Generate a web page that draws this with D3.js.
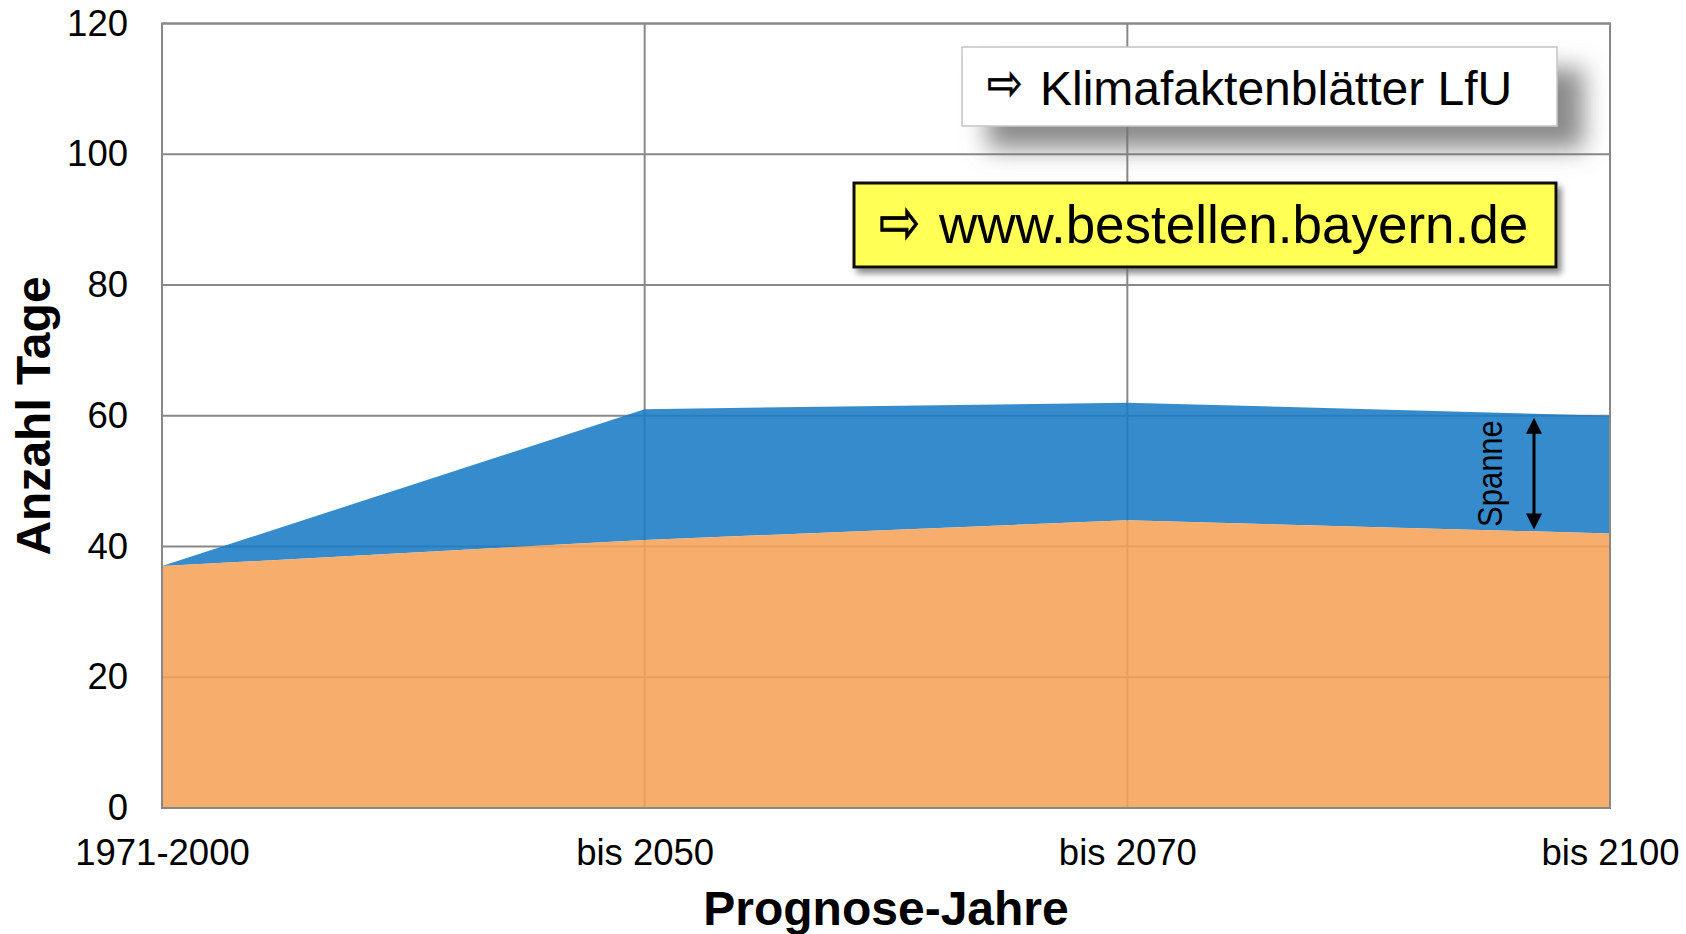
<!DOCTYPE html>
<html>
<head>
<meta charset="utf-8">
<script src="https://cdn.jsdelivr.net/npm/d3@7/dist/d3.min.js"></script>
<style>
body { margin: 0; background: #fff; }
text { font-family: "Liberation Sans", Arial, sans-serif; fill: #000; }
</style>
</head>
<body>
<svg id="chart" width="1686" height="934"></svg>
<script>
var categories = ['1971-2000', 'bis 2050', 'bis 2070', 'bis 2100'];
var lower = [37, 41, 44, 42];   // orange area
var upper = [37, 61, 62, 60];   // top of blue band (Spanne)
var yTicks = [0, 20, 40, 60, 80, 100, 120];

var svg = d3.select('#chart');
var plot = {left: 162, right: 1610, top: 23.5, bottom: 808};

var x = d3.scalePoint().domain(categories).range([plot.left, plot.right]);
var y = d3.scaleLinear().domain([0, 120]).range([plot.bottom, plot.top]);

var defs = svg.append('defs');
function shadow(id, dx, dy, blur, op) {
    var f = defs.append('filter').attr('id', id)
        .attr('x', '-20%').attr('y', '-50%').attr('width', '150%').attr('height', '220%');
    f.append('feDropShadow')
        .attr('dx', dx).attr('dy', dy).attr('stdDeviation', blur)
        .attr('flood-color', '#6e6e6e').attr('flood-opacity', op);
}
shadow('softShadow', 26, 22, 12, 0.8);
shadow('hardShadow', 4, 5, 3, 0.8);

// grid
var grid = svg.append('g').attr('stroke', '#888').attr('stroke-width', 2);
grid.selectAll('line.h').data(yTicks).enter().append('line')
    .attr('x1', plot.left).attr('x2', plot.right)
    .attr('y1', function(d) { return y(d); })
    .attr('y2', function(d) { return y(d); });
grid.selectAll('line.v').data(categories).enter().append('line')
    .attr('y1', plot.top).attr('y2', plot.bottom)
    .attr('x1', function(d) { return x(d); })
    .attr('x2', function(d) { return x(d); });

// areas
var rows = categories.map(function(c, i) {
    return {cat: c, lo: lower[i], hi: upper[i]};
});
var band = d3.area()
    .x(function(d) { return x(d.cat); })
    .y0(function(d) { return y(d.lo); })
    .y1(function(d) { return y(d.hi); });
var base = d3.area()
    .x(function(d) { return x(d.cat); })
    .y0(y(0))
    .y1(function(d) { return y(d.lo); });
svg.append('path').datum(rows).attr('d', band)
    .attr('fill', '#197bc4').attr('fill-opacity', 0.88);
svg.append('path').datum(rows).attr('d', base)
    .attr('fill', '#f6a258').attr('fill-opacity', 0.88);

// frame
svg.append('rect')
    .attr('x', plot.left).attr('y', plot.top)
    .attr('width', plot.right - plot.left).attr('height', plot.bottom - plot.top)
    .attr('fill', 'none').attr('stroke', '#888').attr('stroke-width', 2);

// axes
var yAxis = svg.append('g')
    .attr('transform', 'translate(' + plot.left + ',0)')
    .call(d3.axisLeft(y).tickValues(yTicks).tickSize(0).tickPadding(34));
var xAxis = svg.append('g')
    .attr('transform', 'translate(0,' + plot.bottom + ')')
    .call(d3.axisBottom(x).tickSize(0).tickPadding(31));
[yAxis, xAxis].forEach(function(a) {
    a.select('.domain').remove();
    a.selectAll('text')
        .attr('font-family', '"Liberation Sans", Arial, sans-serif')
        .attr('font-size', 36.5).attr('fill', '#000');
});

// axis titles
svg.append('text')
    .attr('transform', 'translate(50,416) rotate(-90)')
    .attr('text-anchor', 'middle')
    .attr('font-size', 48).attr('font-weight', 'bold')
    .text('Anzahl Tage');
svg.append('text')
    .attr('x', (plot.left + plot.right) / 2).attr('y', 925)
    .attr('text-anchor', 'middle')
    .attr('font-size', 48).attr('font-weight', 'bold')
    .text('Prognose-Jahre');

// Spanne arrow at the last category
var last = rows[rows.length - 1];
var ax = x(last.cat) - 76;
var ay1 = y(last.hi) + 2, ay2 = y(last.lo) - 4;
svg.append('line')
    .attr('x1', ax).attr('x2', ax)
    .attr('y1', ay1 + 14).attr('y2', ay2 - 14)
    .attr('stroke', '#000').attr('stroke-width', 3);
svg.append('path')
    .attr('d', 'M' + ax + ',' + ay1 + 'l-8,16h16z' +
               'M' + ax + ',' + ay2 + 'l-8,-16h16z')
    .attr('fill', '#000');
svg.append('text')
    .attr('transform', 'translate(1502,' + ((ay1 + ay2) / 2) + ') rotate(-90) scale(1,1.15)')
    .attr('text-anchor', 'middle')
    .attr('font-size', 31)
    .text('Spanne');

// info boxes
function arrowGlyph(g, px, py, size, sx) {
    g.append('text')
        .attr('transform', 'translate(' + px + ',' + py + ') scale(' + sx + ',1)')
        .attr('font-family', '"DejaVu Sans", sans-serif')
        .attr('font-size', size)
        .attr('stroke', '#000').attr('stroke-width', 0.8)
        .text('⇨');
}

var box1 = svg.append('g');
box1.append('rect')
    .attr('x', 962).attr('y', 47).attr('width', 595).attr('height', 79)
    .attr('fill', '#fff').attr('stroke', '#c4c4c4').attr('stroke-width', 1.5)
    .attr('filter', 'url(#softShadow)');
arrowGlyph(box1, 987, 100, 50, 0.85);
box1.append('text').attr('x', 1040).attr('y', 105).attr('font-size', 48)
    .text('Klimafaktenblätter LfU');

var box2 = svg.append('g');
box2.append('rect')
    .attr('x', 854).attr('y', 183).attr('width', 702).attr('height', 84)
    .attr('fill', '#ffff57').attr('stroke', '#111').attr('stroke-width', 3)
    .attr('filter', 'url(#hardShadow)');
arrowGlyph(box2, 879, 244, 64, 0.77);
box2.append('text').attr('x', 939).attr('y', 243).attr('font-size', 53)
    .text('www.bestellen.bayern.de');
</script>
</body>
</html>
